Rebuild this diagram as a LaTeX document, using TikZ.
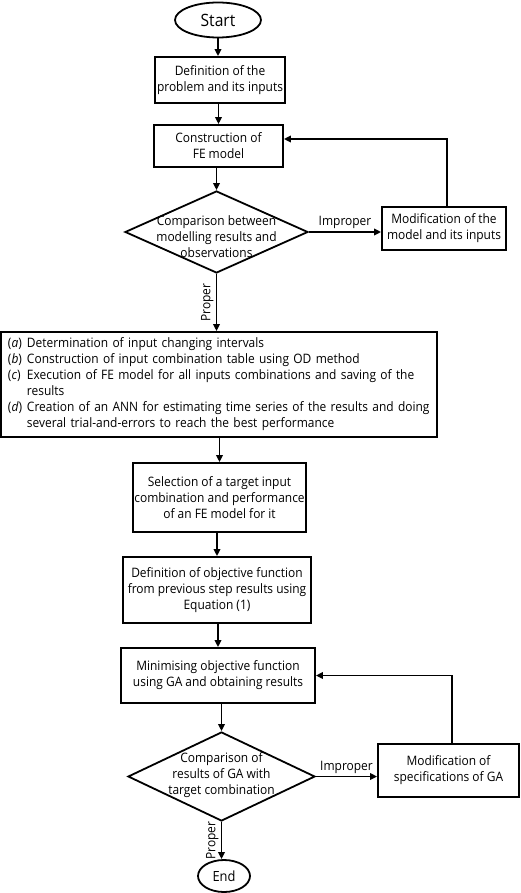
\documentclass[tikz,border=0pt]{standalone}
\usepackage{fontspec}
\setmainfont{Open Sans}[FakeStretch=0.92]
\usetikzlibrary{shapes.geometric,arrows.meta}
\begin{document}
\begin{tikzpicture}[x=1pt,y=-1pt,
  line width=1.8pt,
  font=\fontsize{13}{16}\selectfont,
  >={Triangle[length=7pt,width=6.5pt]},
  box/.style={draw, rectangle, inner sep=0pt, align=center},
  term/.style={draw, ellipse, inner sep=0pt},
  decision/.style={draw, diamond, inner sep=0pt},
  lbl/.style={inner sep=2pt}]
\path[use as bounding box] (0,0) rectangle (520,893);

\node[term, minimum width=86pt, minimum height=35pt, font=\fontsize{17}{20}\selectfont] (start) at (218,20) {Start};
\node[box, minimum width=130pt, minimum height=46pt] (def1) at (220,80) {Definition of the\\problem and its inputs};
\node[box, minimum width=129pt, minimum height=42pt] (cons) at (218.5,146) {Construction of\\FE model};
\node[decision, minimum width=183pt, minimum height=82pt,
  label={[align=center, yshift=-5pt]center:Comparison between\\modelling results and\\observations}] (dec1) at (216.5,232) {};
\node[box, minimum width=124pt, minimum height=43pt] (mod1) at (444,228.5) {Modification of the\\model and its inputs};
\node[box, minimum width=436pt, minimum height=105pt, text width=422pt, align=left] (big) at (219,384.5) {%
\makebox[19pt][l]{(\textit{a})}Determination of input changing intervals\\
\makebox[19pt][l]{(\textit{b})}Construction of input combination table using OD method\\
\makebox[19pt][l]{(\textit{c})}Execution of FE model for all inputs combinations and saving of the\\
\hspace*{19pt}results\\
\makebox[19pt][l]{(\textit{d})}Creation of an ANN for estimating time series of the results and doing\\
\hspace*{19pt}several trial-and-errors to reach the best performance};
\node[box, minimum width=173pt, minimum height=69pt] (sel) at (219.5,497.5) {Selection of a target input\\combination and performance\\of an FE model for it};
\node[box, minimum width=188pt, minimum height=66pt] (def2) at (217,590) {Definition of objective function\\from previous step results using\\Equation (1)};
\node[box, minimum width=194pt, minimum height=55pt] (min) at (218,675.5) {Minimising objective function\\using GA and obtaining results};
\node[decision, minimum width=187pt, minimum height=89pt,
  label={[align=center, yshift=1pt]center:Comparison of\\results of GA with\\target combination}] (dec2) at (221.5,776.5) {};
\node[box, minimum width=141pt, minimum height=53pt] (mod2) at (448.5,770.5) {Modification of\\specifications of GA};
\node[term, minimum width=52pt, minimum height=32pt, font=\fontsize{14}{16}\selectfont] (end) at (224,876) {End};

\draw[->] (start.south) -- (start.south |- def1.north);
\draw[->] (cons.north |- def1.south) -- (cons.north);
\draw[->] (dec1.north |- cons.south) -- (dec1.north);
\draw[->] (dec1.east) -- node[above, lbl]{Improper} (dec1.east -| mod1.west);
\draw[->] ([xshift=3pt]mod1.north) |- ([yshift=7pt]cons.east);
\draw[->] (dec1.south) -- node[midway, rotate=90, anchor=south, lbl]{Proper} (dec1.south |- big.north);
\draw[->] (sel.north |- big.south) -- (sel.north);
\draw[->] (def2.north |- sel.south) -- (def2.north);
\draw[->] (min.north |- def2.south) -- (min.north);
\draw[->] (dec2.north |- min.south) -- (dec2.north);
\draw[->] (dec2.east) -- node[above, lbl]{Improper} (dec2.east -| mod2.west);
\draw[->] ([xshift=3.5pt]mod2.north) |- (min.east);
\draw[->] (dec2.south) -- node[midway, rotate=90, anchor=south, lbl]{Proper} (dec2.south |- end.north);
\end{tikzpicture}
\end{document}
